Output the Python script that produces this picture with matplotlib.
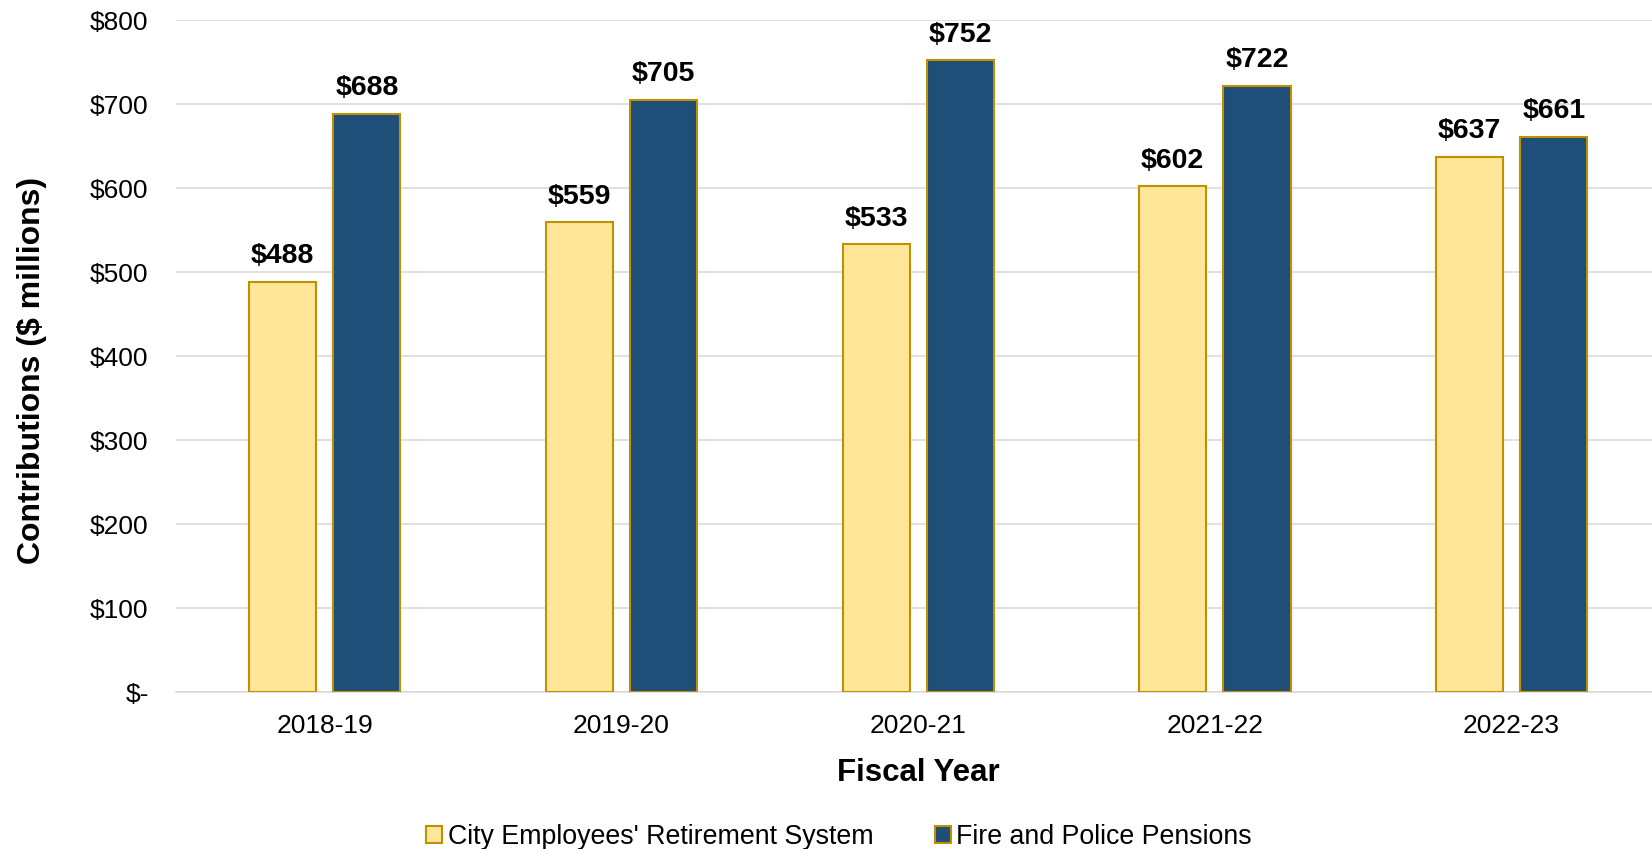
import numpy as np
import matplotlib.pyplot as plt
from matplotlib.ticker import FuncFormatter

plt.rcParams['font.family'] = ['Liberation Sans', 'DejaVu Sans']

# data
years = ['2018-19', '2019-20', '2020-21', '2021-22', '2022-23']
cers = [488, 559, 533, 602, 637]
fpp = [688, 705, 752, 722, 661]

gold_edge = '#BF9000'
yellow = '#FFE699'
navy = '#1F4E79'

fig = plt.figure(figsize=(16.52, 8.49), dpi=100)
ax = fig.add_axes([0.1068, 0.1849, 0.898, 0.7915])

x = np.arange(len(years))
w = 0.226
off = 0.142

b1 = ax.bar(x - off, cers, w, color=yellow, edgecolor=gold_edge, linewidth=1.5,
            label="City Employees' Retirement System", zorder=3)
b2 = ax.bar(x + off, fpp, w, color=navy, edgecolor=gold_edge, linewidth=1.5,
            label='Fire and Police Pensions', zorder=3)

# value labels on top
for bars, vals in [(b1, cers), (b2, fpp)]:
    for rect, v in zip(bars, vals):
        ax.annotate(f'${v}', (rect.get_x() + rect.get_width() / 2, v),
                    xytext=(0, 13.5), textcoords='offset points',
                    ha='center', va='baseline', fontsize=20.5, fontweight='bold')

ax.set_xlim(-0.5, len(years) - 0.5)
ax.set_ylim(0, 800)
ax.set_yticks(range(0, 801, 100))
ax.yaxis.set_major_formatter(FuncFormatter(lambda v, p: '$-' if v == 0 else f'${int(v)}'))
ax.set_xticks(x)
ax.set_xticklabels(years)

ax.tick_params(axis='both', length=0, labelsize=19)
ax.tick_params(axis='y', pad=20)
ax.tick_params(axis='x', pad=16)

ax.grid(axis='y', color='#D9D9D9', linewidth=1.1, zorder=0)
for s in ['top', 'right', 'left']:
    ax.spines[s].set_visible(False)
ax.spines['bottom'].set_color('#D9D9D9')
ax.spines['bottom'].set_linewidth(1.1)

ax.set_ylabel('Contributions ($ millions)', fontsize=23, fontweight='bold')
ax.yaxis.set_label_coords(-0.087, 0.478)
ax.set_xlabel('Fiscal Year', fontsize=22.5, fontweight='bold', labelpad=14)

fig.legend(handles=[b1, b2], loc='center', bbox_to_anchor=(0.508, 0.0145), ncol=2,
           frameon=False, fontsize=19.3, handlelength=0.6, handleheight=0.6,
           handletextpad=0.2, columnspacing=2.3)

fig.savefig('out.png', dpi=100)
